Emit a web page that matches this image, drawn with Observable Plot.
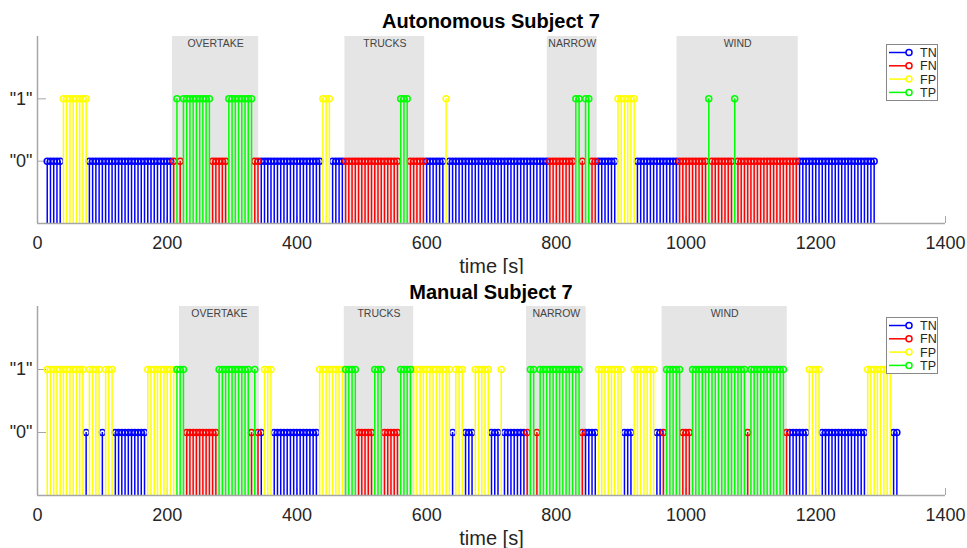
<!DOCTYPE html>
<html>
<head>
<meta charset="utf-8">
<script src="https://cdn.jsdelivr.net/npm/d3@7"></script>
<script src="https://cdn.jsdelivr.net/npm/@observablehq/plot@0.6"></script>
<style>
  html, body { margin: 0; padding: 0; background: #fff; }
  #wrap { position: relative; width: 967px; height: 548px; background: #fff; font-family: "Liberation Sans", Arial, Helvetica, sans-serif; }
  .panel { position: absolute; left: 0; }
  .title { position: absolute; left: 37px; width: 908px; text-align: center; font-weight: bold; font-size: 20px; line-height: 20px; color: #000; }
  .legend { position: absolute; }
</style>
</head>
<body>
<div id="wrap"></div>
<script>
// ---------------- data ----------------
const xTicks = [0, 200, 400, 600, 800, 1000, 1200, 1400];
const yTicks = [0, 1];
const yTickLabels = ['"0"', '"1"'];
const xLabel = "time [s]";
const classNames = ["TN", "FN", "FP", "TP"];
const classColors = ["#0000ff", "#ff0000", "#ffff00", "#00ff00"];
const classValues = [0, 0, 1, 1];
const stemBase = -1;
const sampleStart = 15;   // s
const sampleStep = 5;     // s

// Autonomous subject 7: consecutive runs of classified samples
const autoRunClass = ["TN","FP","TN","FN","TP","FN","TP","FN","TP","FN","TN","FP","TN","FN","TP","FN","TN","FP","TN","FN","TP","FN","TP","FN","TN","FP","TN","FN","TP","FN","TP","FN","TN"];
const autoRunLength = [5, 8, 26, 1, 1, 1, 9, 5, 8, 2, 19, 3, 4, 17, 3, 5, 6, 1, 31, 8, 2, 1, 2, 2, 6, 6, 13, 9, 1, 7, 1, 19, 24];

// Manual subject 7
const manualRunClass = ["FP","TN","FP","TN","FP","TN","FP","TP","FN","TP","FN","TP","FN","TN","FP","TN","FP","TP","FN","TP","FN","TP","FP","TN","FP","TN","FP","TN","FP","TN","FN","TP","FN","TP","FN","TN","FP","TN","FP","TN","FN","TP","FN","TP","FN","TP","FN","TN","FP","TN","FP","TN"];
const manualRunLength = [12, 1, 4, 1, 3, 10, 9, 3, 10, 10, 1, 1, 1, 1, 3, 14, 8, 4, 5, 3, 5, 4, 12, 1, 3, 3, 5, 3, 1, 7, 1, 2, 1, 13, 1, 4, 8, 3, 7, 2, 1, 5, 3, 17, 1, 11, 1, 6, 4, 14, 8, 2];

const scenarioNames = ["OVERTAKE", "TRUCKS", "NARROW", "WIND"];
const autoScenarioStart = [208, 474, 786, 986];
const autoScenarioEnd = [341, 597, 863, 1173];
const manualScenarioStart = [219, 473, 754, 963];
const manualScenarioEnd = [342, 580, 846, 1156];

const titles = ["Autonomous Subject 7", "Manual Subject 7"];

// ---------------- build tables ----------------
function samples(runClass, runLength) {
  const out = [];
  let i = 0;
  runClass.forEach((c, r) => {
    for (let k = 0; k < runLength[r]; k++, i++) {
      const ci = classNames.indexOf(c);
      out.push({t: sampleStart + i * sampleStep, cls: c, v: classValues[ci]});
    }
  });
  return out;
}
function scenarios(starts, ends) {
  return scenarioNames.map((n, i) => ({name: n, start: starts[i], end: ends[i]}));
}

const panels = [
  {title: titles[0], data: samples(autoRunClass, autoRunLength), scen: scenarios(autoScenarioStart, autoScenarioEnd),
   top: 0, height: 274, marginTop: 36, marginBottom: 51, titleTop: 11, legendTop: 44},
  {title: titles[1], data: samples(manualRunClass, manualRunLength), scen: scenarios(manualScenarioStart, manualScenarioEnd),
   top: 274, height: 274, marginTop: 32, marginBottom: 53, titleTop: 282, legendTop: 317}
];

const wrap = document.getElementById("wrap");
const axisGray = "#a6a6a6";

panels.forEach(p => {
  const stemMarks = [];
  classNames.forEach((c, ci) => {
    const d = p.data.filter(s => s.cls === c);
    stemMarks.push(Plot.ruleX(d, {x: "t", y1: stemBase, y2: "v", stroke: classColors[ci], strokeWidth: 1.5}));
    stemMarks.push(Plot.dot(d, {x: "t", y: "v", r: 3, stroke: classColors[ci], strokeWidth: 1.5, fill: "none"}));
  });

  const chart = Plot.plot({
    width: 967,
    height: p.height,
    marginLeft: 37,
    marginRight: 22,
    marginTop: p.marginTop,
    marginBottom: p.marginBottom,
    style: {fontFamily: '"Liberation Sans", Arial, Helvetica, sans-serif', color: "#262626", background: "#fff", overflow: "visible"},
    x: {domain: [0, 1400]},
    y: {domain: [-1, 2]},
    marks: [
      Plot.rectX(p.scen, {x1: "start", x2: "end", fill: "#e5e5e5"}),
      Plot.text(p.scen, {x: d => (d.start + d.end) / 2, frameAnchor: "top", lineAnchor: "middle", dy: 7.5, text: "name", fontSize: 10.5, fill: "#444"}),
      Plot.axisX({ticks: xTicks, tickFormat: d => String(d), tickSize: -7, tickPadding: 20, fontSize: 18, stroke: axisGray, label: null}),
      Plot.axisY({ticks: yTicks, tickFormat: d => yTickLabels[yTicks.indexOf(d)], tickSize: -9, tickPadding: 14, fontSize: 18, stroke: axisGray, label: null}),
      ...stemMarks,
      Plot.ruleY([stemBase], {stroke: axisGray, strokeWidth: 1.5}),
      Plot.ruleX([0], {stroke: axisGray, strokeWidth: 1.5}),
      Plot.text([xLabel], {frameAnchor: "bottom", lineAnchor: "middle", dy: 43.5, text: d => d, fontSize: 20, fill: "#262626"})
    ]
  });
  const holder = document.createElement("div");
  holder.className = "panel";
  holder.style.top = p.top + "px";
  holder.appendChild(chart);
  wrap.appendChild(holder);

  const t = document.createElement("div");
  t.className = "title";
  t.style.top = p.titleTop + "px";
  t.textContent = p.title;
  wrap.appendChild(t);

  // legend
  const lg = document.createElementNS("http://www.w3.org/2000/svg", "svg");
  lg.setAttribute("width", 52);
  lg.setAttribute("height", 57);
  lg.setAttribute("class", "legend");
  lg.style.left = "885.5px";
  lg.style.top = p.legendTop + "px";
  let inner = `<rect x="0.5" y="0.5" width="51" height="56" fill="#fff" stroke="#888" stroke-width="1"/>`;
  classNames.forEach((c, i) => {
    const y = 8.5 + i * 13.3;
    inner += `<line x1="3" x2="23" y1="${y}" y2="${y}" stroke="${classColors[i]}" stroke-width="1.5"/>`;
    inner += `<circle cx="23" cy="${y}" r="3" fill="#fff" stroke="${classColors[i]}" stroke-width="1.5"/>`;
    inner += `<text x="34" y="${y}" dy="0.36em" font-size="12.5" fill="#262626" font-family="Liberation Sans, Arial, sans-serif">${c}</text>`;
  });
  lg.innerHTML = inner;
  wrap.appendChild(lg);
});
</script>
</body>
</html>
